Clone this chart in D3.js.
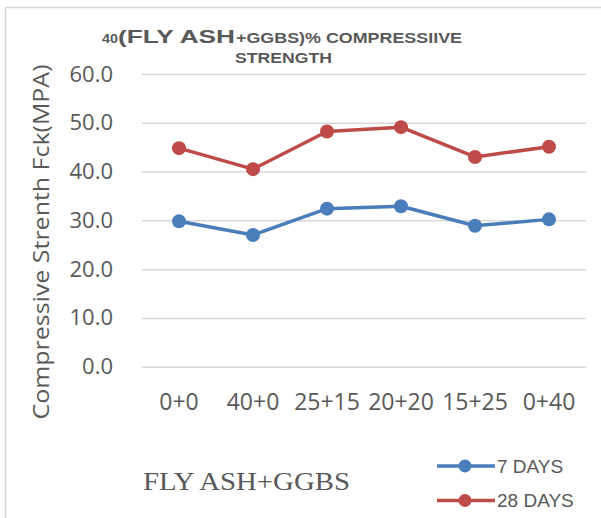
<!DOCTYPE html>
<html>
<head>
<meta charset="utf-8">
<script src="https://cdn.jsdelivr.net/npm/d3@7"></script>
<style>
  body { margin: 0; background: #fff; }
  svg text { fill: #595959; }
</style>
</head>
<body>
<div id="chart"></div>
<script>
const categories = ["0+0", "40+0", "25+15", "20+20", "15+25", "0+40"];
const days7 = [29.8, 27.0, 32.4, 32.9, 28.9, 30.2];
const days28 = [44.8, 40.5, 48.2, 49.1, 43.0, 45.1];
const yTicks = [0, 10, 20, 30, 40, 50, 60];
const seriesNames = ["7 DAYS", "28 DAYS"];
const seriesColors = ["#4a7ebb", "#be4b48"];

const W = 601, H = 518;
const plot = { left: 142, right: 586, top: 74, bottom: 366.7 };

const svg = d3.select("#chart").append("svg")
    .attr("width", W)
    .attr("height", H);

// chart area border
svg.append("rect")
    .attr("x", 5.5).attr("y", 7.5)
    .attr("width", 620).attr("height", 540)
    .attr("fill", "#fff")
    .attr("stroke", "#d9d9d9")
    .attr("stroke-width", 1.5);

const x = d3.scaleBand().domain(categories).range([plot.left, plot.right]);
const y = d3.scaleLinear().domain([0, 60]).range([plot.bottom, plot.top]);
const cx = d => x(d) + x.bandwidth() / 2;

// gridlines
const grid = svg.append("g")
    .attr("transform", `translate(${plot.left},0)`)
    .call(d3.axisLeft(y).tickValues(yTicks).tickSize(-(plot.right - plot.left)).tickFormat(""));
grid.select(".domain").remove();
grid.selectAll(".tick line").attr("stroke", "#d9d9d9").attr("stroke-width", 1.5);

// y axis labels
const yAxis = svg.append("g")
    .attr("transform", `translate(${plot.left},0)`)
    .call(d3.axisLeft(y).tickValues(yTicks).tickSize(0).tickPadding(29).tickFormat(d3.format(".1f")));
yAxis.select(".domain").remove();
yAxis.selectAll("text")
    .attr("font-family", "Open Sans, sans-serif")
    .attr("font-size", 22)
    .attr("fill", "#595959");

// x axis labels
const xAxis = svg.append("g")
    .attr("transform", `translate(0,${plot.bottom})`)
    .call(d3.axisBottom(x).tickSize(0).tickPadding(27));
xAxis.select(".domain").remove();
xAxis.selectAll("text")
    .attr("font-family", "Open Sans, sans-serif")
    .attr("font-size", 23)
    .attr("fill", "#595959");

// series
const series = [days7, days28];
const line = d3.line().x((d, i) => cx(categories[i])).y(d => y(d));
series.forEach((vals, s) => {
  svg.append("path")
      .datum(vals)
      .attr("d", line)
      .attr("fill", "none")
      .attr("stroke", seriesColors[s])
      .attr("stroke-width", 3.5)
      .attr("stroke-linejoin", "round");
  svg.selectAll(null)
      .data(vals)
      .join("circle")
      .attr("cx", (d, i) => cx(categories[i]))
      .attr("cy", d => y(d))
      .attr("r", 7)
      .attr("fill", seriesColors[s]);
});

// title (mixed sizes, pieces stretched like the original)
const titleParts = [
  { text: "40", x: 102, len: 16, size: 13 },
  { text: "(FLY ASH", x: 118, len: 117, size: 19 },
  { text: "+GGBS)% COMPRESSIIVE", x: 236, len: 226, size: 14 }
];
titleParts.forEach(p => {
  svg.append("text")
      .attr("x", p.x).attr("y", 43)
      .attr("font-family", "Liberation Sans, Arial, sans-serif")
      .attr("font-weight", "bold")
      .attr("font-size", p.size)
      .attr("textLength", p.len)
      .attr("lengthAdjust", "spacingAndGlyphs")
      .text(p.text);
});
svg.append("text")
    .attr("x", 235).attr("y", 63)
    .attr("font-family", "Liberation Sans, Arial, sans-serif")
    .attr("font-weight", "bold")
    .attr("font-size", 14)
    .attr("textLength", 97)
    .attr("lengthAdjust", "spacingAndGlyphs")
    .text("STRENGTH");

// y axis title
svg.append("text")
    .attr("transform", "translate(49,242) rotate(-90)")
    .attr("text-anchor", "middle")
    .attr("font-family", "Open Sans, sans-serif")
    .attr("font-size", 22)
    .attr("textLength", 355)
    .attr("lengthAdjust", "spacingAndGlyphs")
    .text("Compressive Strenth Fck(MPA)");

// x axis title
svg.append("text")
    .attr("x", 143).attr("y", 490)
    .attr("font-family", "Liberation Serif, Times New Roman, serif")
    .attr("font-size", 25)
    .attr("textLength", 207)
    .attr("lengthAdjust", "spacingAndGlyphs")
    .text("FLY ASH+GGBS");

// legend
const legendY = [466, 500.5];
seriesNames.forEach((name, i) => {
  const g = svg.append("g").attr("transform", `translate(0,${legendY[i]})`);
  g.append("line")
      .attr("x1", 437).attr("x2", 495)
      .attr("stroke", seriesColors[i])
      .attr("stroke-width", 3.5);
  g.append("circle")
      .attr("cx", 465).attr("r", 6.5)
      .attr("fill", seriesColors[i]);
  g.append("text")
      .attr("x", 497).attr("dy", "0.36em")
      .attr("font-family", "Liberation Sans, Arial, sans-serif")
      .attr("font-size", 19)
      .text(name);
});
</script>
</body>
</html>
